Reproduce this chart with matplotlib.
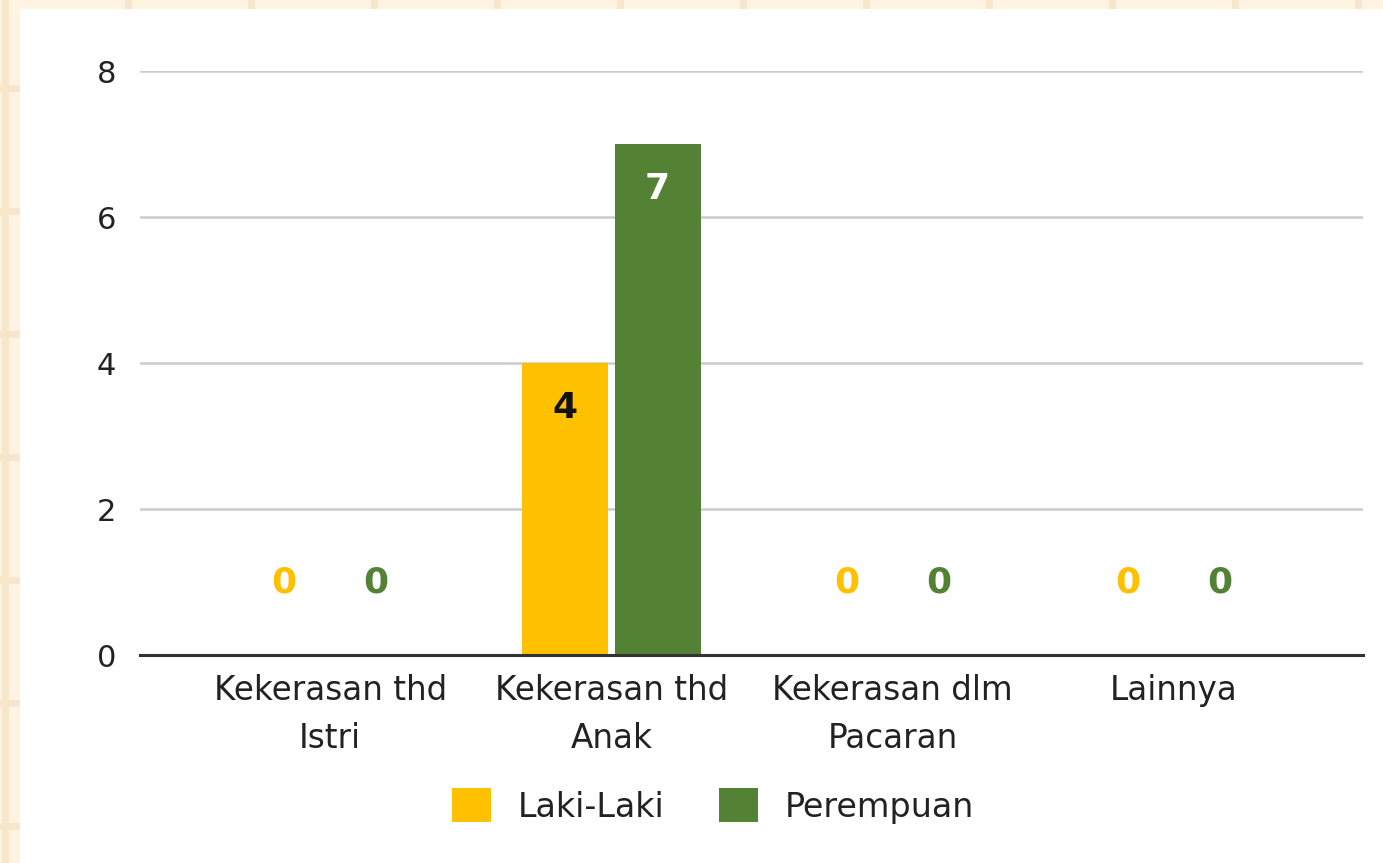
import matplotlib
matplotlib.use("Agg")
import matplotlib.pyplot as plt
from matplotlib.patches import Rectangle, Patch
import numpy as np

categories = ["Kekerasan thd\nIstri", "Kekerasan thd\nAnak", "Kekerasan dlm\nPacaran", "Lainnya"]
series_names = ["Laki-Laki", "Perempuan"]
laki = [0, 4, 0, 0]
perempuan = [0, 7, 0, 0]
yticks = [0, 2, 4, 6, 8]

YELLOW = "#FFC000"
GREEN = "#548235"
W, H = 1383, 863

plt.rcParams['font.family'] = ['DejaVu Sans']
fig = plt.figure(figsize=(W / 100, H / 100), dpi=100, facecolor="white")

# decorative cream frame
cream = "#FFF4E1"
cream_dark = "#F7E6CB"
def px_rect(x, y, w, h, color):
    fig.add_artist(Rectangle((x / W, 1 - (y + h) / H), w / W, h / H,
                             transform=fig.transFigure, facecolor=color,
                             edgecolor="none", zorder=0))
px_rect(0, 0, W, 9, cream)
px_rect(0, 0, 20, H, cream)
for k in range(12):
    px_rect(2 + 123 * k, 0, 7, 9, cream_dark)
px_rect(2, 0, 7, H, cream_dark)
for k in range(7):
    px_rect(0, 85 + 123 * k, 20, 7, cream_dark)

ax = fig.add_axes([140 / W, 1 - 655 / H, (1363 - 140) / W, (655 - 71.5) / H])
ax.set_facecolor("none")

x = np.arange(len(categories))
bw = 0.306
off = 0.164
b1 = ax.bar(x - off, laki, bw, color=YELLOW, zorder=3)
b2 = ax.bar(x + off, perempuan, bw, color=GREEN, zorder=3)

ax.set_ylim(0, 8)
ax.set_xlim(-0.676, 3.672)
ax.set_yticks(yticks)
ax.set_xticks(x)
ax.set_xticklabels(categories, fontsize=23.5, linespacing=1.55, color="#222222")
ax.tick_params(axis="y", length=0, pad=17, labelsize=22, labelcolor="#222222")
ax.tick_params(axis="x", length=0, pad=14)
ax.yaxis.grid(True, color="#CCCCCC", linewidth=1.8, zorder=0)
for s in ["top", "right", "left"]:
    ax.spines[s].set_visible(False)
ax.spines["bottom"].set_color("#333333")
ax.spines["bottom"].set_linewidth(2.2)
ax.spines["bottom"].set_zorder(4)

def label(bars, vals, color_in, color_zero):
    for rect, v in zip(bars, vals):
        cx = rect.get_x() + rect.get_width() / 2
        if v > 0:
            ax.annotate(str(v), (cx, v), xytext=(0, -32), textcoords="offset points",
                        ha="center", va="center", fontsize=26, fontweight="bold",
                        color=color_in, zorder=5)
        else:
            ax.annotate(str(v), (cx, 0), xytext=(0, 52), textcoords="offset points",
                        ha="center", va="center", fontsize=26, fontweight="bold",
                        color=color_zero, zorder=5)

label(b1, laki, "#111111", YELLOW)
label(b2, perempuan, "white", GREEN)

handles = [Patch(facecolor=YELLOW, edgecolor="none"), Patch(facecolor=GREEN, edgecolor="none")]
fig.legend(handles, series_names, loc="center", bbox_to_anchor=(713 / W, 1 - 806 / H),
           ncol=2, frameon=False, fontsize=24, handlelength=1.17, handleheight=1.17,
           handletextpad=0.8, columnspacing=1.65, labelcolor="#222222")

fig.savefig("out.png", dpi=100, facecolor="white")
